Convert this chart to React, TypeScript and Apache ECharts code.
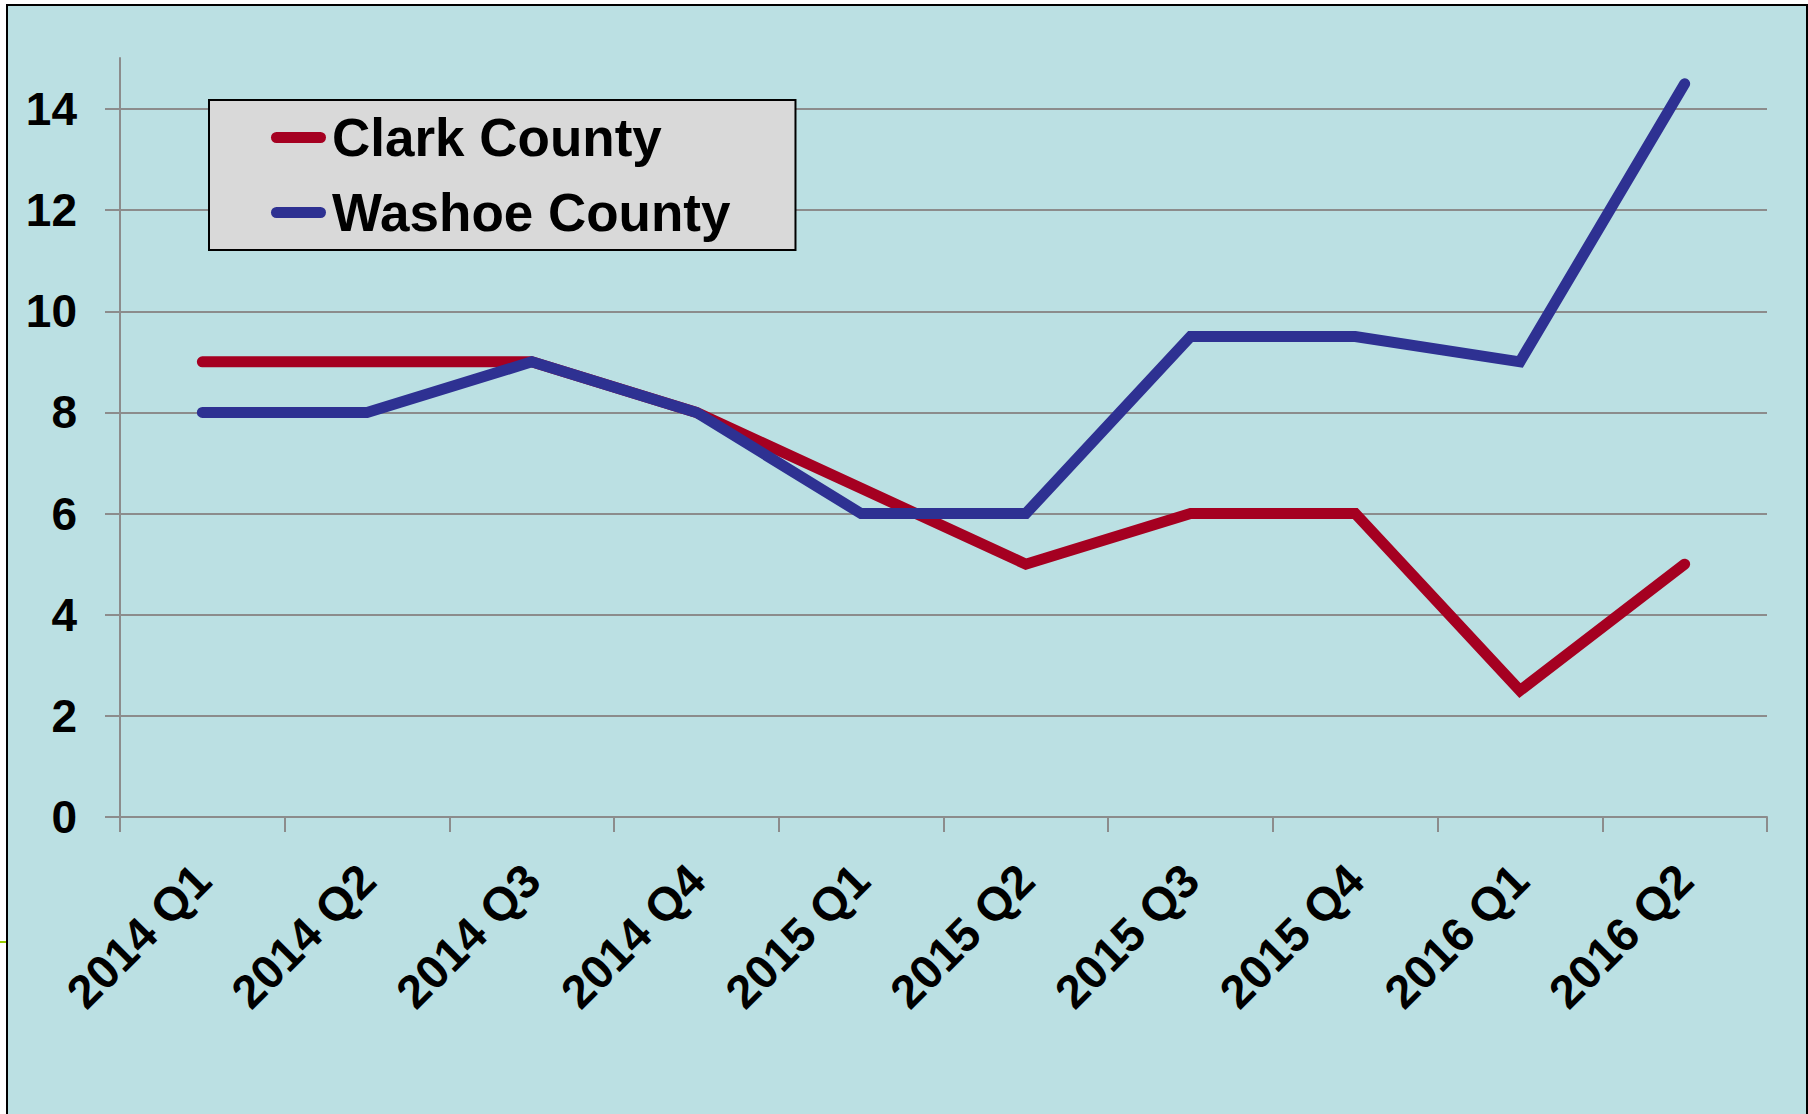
import React, { useEffect, useRef } from "react";
import * as echarts from "echarts";

const categories = [
  "2014 Q1", "2014 Q2", "2014 Q3", "2014 Q4", "2015 Q1",
  "2015 Q2", "2015 Q3", "2015 Q4", "2016 Q1", "2016 Q2",
];
const clarkCounty = [9, 9, 9, 8, 6.5, 5, 6, 6, 2.5, 5];
const washoeCounty = [8, 8, 9, 8, 6, 6, 9.5, 9.5, 9, 14.5];
const yTicks = [0, 2, 4, 6, 8, 10, 12, 14];

const FONT = '"Liberation Sans", Arial, sans-serif';
const GRID_GRAY = "#8C8C8C";

export default function App() {
  const ref = useRef<HTMLDivElement>(null);

  useEffect(() => {
    const el = ref.current;
    if (!el) return;
    const chart = echarts.init(el, undefined, { renderer: "svg" });
    const legendIcon =
      "path://M5,0 L45,0 A5,5 0 0 1 45,10 L5,10 A5,5 0 0 1 5,0 Z";
    chart.setOption({
      animation: false,
      backgroundColor: "#ffffff",
      graphic: [
        {
          type: "rect",
          z: -10,
          silent: true,
          shape: { x: 7, y: 5, width: 1800, height: 1200 },
          style: { fill: "#BBE0E3", stroke: "#000000", lineWidth: 2 },
        },
        {
          type: "line",
          z: -9,
          silent: true,
          shape: { x1: 0, y1: 942, x2: 6, y2: 942 },
          style: { stroke: "#99CC00", lineWidth: 2 },
        },
      ],
      grid: [
        { left: 120, right: 41, top: 109, bottom: 297, containLabel: false },
        { left: 120, right: 41, top: 58, bottom: 297, containLabel: false },
      ],
      legend: {
        orient: "vertical",
        left: 209,
        top: 100,
        padding: [10, 65, 10, 62],
        itemGap: 20,
        itemWidth: 57,
        itemHeight: 11,
        backgroundColor: "#D9D9D9",
        borderColor: "#000000",
        borderWidth: 2,
        borderRadius: 0,
        data: [
          { name: "Clark County", icon: legendIcon },
          { name: "Washoe County", icon: legendIcon },
        ],
        textStyle: {
          fontFamily: FONT,
          fontWeight: "bold",
          fontSize: 53,
          lineHeight: 55,
          color: "#000000",
        },
      },
      xAxis: [
        {
          type: "category",
          gridIndex: 0,
          data: categories,
          boundaryGap: true,
          axisLine: { show: true, lineStyle: { color: GRID_GRAY, width: 2 } },
          axisTick: {
            show: true,
            alignWithLabel: false,
            length: 15,
            lineStyle: { color: GRID_GRAY, width: 2 },
          },
          axisLabel: {
            rotate: 45,
            margin: 55,
            interval: 0,
            fontFamily: FONT,
            fontWeight: "bold",
            fontSize: 47,
            color: "#000000",
          },
          splitLine: { show: false },
        },
        {
          type: "category",
          gridIndex: 1,
          data: categories,
          show: false,
        },
      ],
      yAxis: [
        {
          type: "value",
          gridIndex: 0,
          min: yTicks[0],
          max: yTicks[yTicks.length - 1],
          interval: 2,
          axisLine: { show: true, lineStyle: { color: GRID_GRAY, width: 2 } },
          axisTick: {
            show: true,
            length: 15,
            lineStyle: { color: GRID_GRAY, width: 2 },
          },
          axisLabel: {
            margin: 43,
            fontFamily: FONT,
            fontWeight: "bold",
            fontSize: 46,
            color: "#000000",
          },
          splitLine: { show: true, lineStyle: { color: GRID_GRAY, width: 2 } },
        },
        {
          type: "value",
          gridIndex: 1,
          min: 0,
          max: 15,
          axisLine: { show: true, lineStyle: { color: GRID_GRAY, width: 2 } },
          axisTick: { show: false },
          axisLabel: { show: false },
          splitLine: { show: false },
        },
      ],
      series: [
        {
          name: "Clark County",
          type: "line",
          xAxisIndex: 0,
          yAxisIndex: 0,
          data: clarkCounty,
          symbol: "none",
          clip: false,
          color: "#A50021",
          lineStyle: { color: "#A50021", width: 11, cap: "round", join: "miter" },
          z: 3,
        },
        {
          name: "Washoe County",
          type: "line",
          xAxisIndex: 0,
          yAxisIndex: 0,
          data: washoeCounty,
          symbol: "none",
          clip: false,
          color: "#2E3192",
          lineStyle: { color: "#2E3192", width: 11, cap: "round", join: "miter" },
          z: 4,
        },
      ],
    });
    return () => {
      chart.dispose();
    };
  }, []);

  return (
    <div
      ref={ref}
      style={{
        position: "absolute",
        left: 0,
        top: 0,
        width: 1808,
        height: 1114,
      }}
    />
  );
}
